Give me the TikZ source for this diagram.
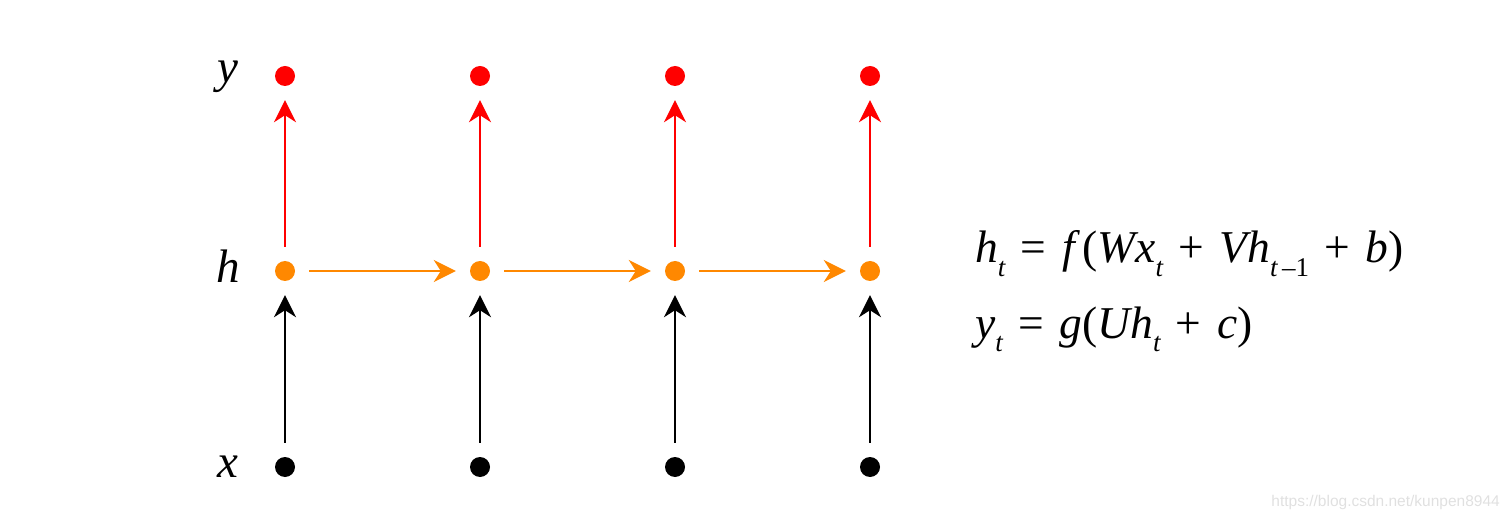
\documentclass[tikz,border=0pt]{standalone}
\usepackage{fontspec}
\setmainfont{Liberation Serif}
\newfontfamily\wmfont{Liberation Sans}
\usetikzlibrary{arrows.meta}
\definecolor{rnnred}{RGB}{255,0,0}
\definecolor{rnnorange}{RGB}{255,136,0}
\newcommand\tsub[1]{\raisebox{-0.3em}{\fontsize{27}{27}\selectfont #1}}
\newcommand\op[1]{\hspace{0.34em}{\upshape #1}\hspace{0.34em}}
\begin{document}
\begin{tikzpicture}[x=1pt,y=-1pt,
  dotnode/.style={circle,inner sep=0pt,minimum size=20pt},
  lbl/.style={inner sep=0pt,anchor=base,font=\fontsize{47}{47}\selectfont\itshape},
  conn/.style={line width=2.7pt,-{Stealth[length=22pt,width=22pt,inset=7pt]},shorten <=14pt,shorten >=14pt},
  formula/.style={inner sep=0pt,anchor=base west,font=\fontsize{45.5}{45.5}\selectfont\itshape}]
\useasboundingbox (0,0) rectangle (1509,518);
\foreach \i/\xx in {1/285,2/480,3/675,4/870}{
  \node[dotnode,fill=rnnred] (y\i) at (\xx,76) {};
  \node[dotnode,fill=rnnorange] (h\i) at (\xx,271) {};
  \node[dotnode,fill=black] (x\i) at (\xx,467) {};
}
\node[lbl] (ly) at (228,83) {y};
\node[lbl] (lh) at (228,283) {h};
\node[lbl] (lx) at (228,477) {x};
\foreach \i in {1,2,3,4}{
  \draw[conn,rnnred] (h\i) -- (y\i);
  \draw[conn,black] (x\i) -- (h\i);
}
\draw[conn,rnnorange] (h1) -- (h2);
\draw[conn,rnnorange] (h2) -- (h3);
\draw[conn,rnnorange] (h3) -- (h4);
\node[formula] (f1) at (975,263) {h\tsub{t}\op{=}f\,{\upshape(}Wx\tsub{t}\op{+}Vh\tsub{t{\upshape\,–1}}\op{+}b{\upshape)}};
\node[formula] (f2) at (975,338) {y\tsub{t}\op{=}g{\upshape(}Uh\tsub{t}\op{+}c{\upshape)}};
\node[inner sep=0pt,anchor=base east,text=black!12,font=\wmfont\fontsize{15.5}{15.5}\selectfont] (wm) at (1500,506) {https://blog.csdn.net/kunpen8944};
\end{tikzpicture}
\end{document}
